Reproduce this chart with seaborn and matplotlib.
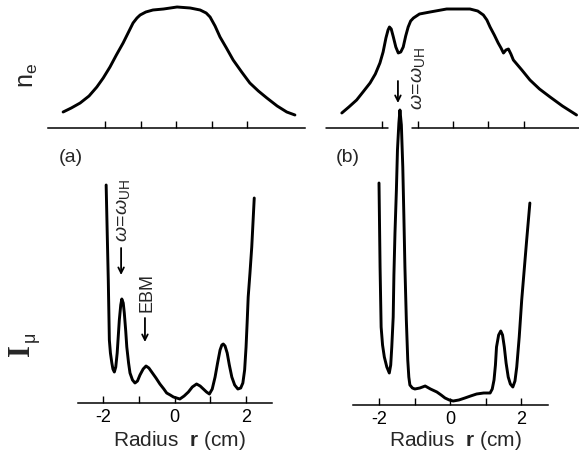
import numpy as np
import pandas as pd
import seaborn as sns
import matplotlib.pyplot as plt

# radius in cm, heights in arbitrary units

# (a) density profile
r_ne_a = [-3.18, -2.95, -2.70, -2.45, -2.23, -2.05, -1.86, -1.68, -1.49, -1.35, -1.21, -1.10, -1.01,
          -0.85, -0.65, -0.35, 0.03, 0.40, 0.68, 0.85, 0.96, 1.10, 1.24, 1.42, 1.61, 1.85, 2.08,
          2.32, 2.56, 2.85, 3.12, 3.35]
ne_a = [0.16, 0.20, 0.25, 0.32, 0.41, 0.50, 0.61, 0.73, 0.85, 0.95, 1.05, 1.10, 1.13,
        1.16, 1.18, 1.19, 1.21, 1.20, 1.18, 1.15, 1.11, 1.02, 0.91, 0.80, 0.68, 0.56, 0.45,
        0.37, 0.30, 0.22, 0.16, 0.13]

# (b) density profile
r_ne_b = [-3.15, -2.95, -2.73, -2.55, -2.35, -2.20, -2.07, -1.98, -1.90, -1.84, -1.80, -1.75, -1.69,
          -1.62, -1.55, -1.48, -1.41, -1.34, -1.27, -1.20, -1.12, -0.95, -0.65, -0.18, 0.20,
          0.48, 0.70, 0.86, 0.96, 1.05, 1.17, 1.28, 1.36, 1.43, 1.50, 1.57, 1.64, 1.71, 1.95,
          2.18, 2.45, 2.75, 3.10, 3.50]
ne_b = [0.15, 0.21, 0.28, 0.36, 0.45, 0.54, 0.65, 0.76, 0.90, 0.98, 1.01, 0.99, 0.91,
        0.81, 0.75, 0.76, 0.81, 0.92, 1.01, 1.07, 1.10, 1.14, 1.16, 1.19, 1.19,
        1.19, 1.17, 1.13, 1.08, 1.01, 0.93, 0.85, 0.80, 0.75, 0.78, 0.79, 0.74, 0.68, 0.58,
        0.48, 0.39, 0.31, 0.22, 0.13]

# (a) microwave intensity
r_mu_a = [-1.92, -1.89, -1.86, -1.83, -1.80, -1.76, -1.73, -1.69, -1.65, -1.61, -1.55, -1.51, -1.48,
          -1.44, -1.41, -1.37, -1.34, -1.29, -1.25, -1.18, -1.11, -1.04, -0.97, -0.88, -0.80,
          -0.72, -0.64, -0.52, -0.41, -0.30, -0.22, -0.12, -0.03, 0.06, 0.15, 0.27, 0.39,
          0.50, 0.62, 0.72, 0.81, 0.90, 0.98, 1.06, 1.14, 1.21, 1.28, 1.33, 1.37, 1.42, 1.48,
          1.54, 1.61, 1.69, 1.78, 1.86, 1.92, 1.97, 2.01, 2.04, 2.07, 2.12, 2.17, 2.24]
mu_a = [2.18, 1.70, 1.23, 0.63, 0.50, 0.40, 0.34, 0.31, 0.36, 0.50, 0.83, 0.98, 1.04,
        1.00, 0.90, 0.72, 0.56, 0.40, 0.30, 0.23, 0.20, 0.22, 0.28, 0.34, 0.37,
        0.35, 0.31, 0.25, 0.19, 0.14, 0.10, 0.08, 0.06, 0.05, 0.04, 0.07, 0.11,
        0.16, 0.19, 0.17, 0.14, 0.11, 0.09, 0.14, 0.26, 0.40, 0.53, 0.58, 0.59, 0.57, 0.50,
        0.38, 0.26, 0.18, 0.14, 0.15, 0.20, 0.33, 0.56, 0.80, 1.06, 1.30, 1.56, 2.05]

# (b) microwave intensity
r_mu_b = [-2.00, -1.97, -1.94, -1.90, -1.85, -1.78, -1.71, -1.67, -1.64, -1.60, -1.58, -1.55, -1.51,
          -1.48, -1.44, -1.41, -1.37, -1.33, -1.30, -1.27, -1.23, -1.19, -1.16, -1.13, -1.06,
          -0.99, -0.85, -0.70, -0.55, -0.37, -0.25, -0.14, -0.02, 0.09, 0.25, 0.42, 0.58,
          0.75, 0.95, 1.13, 1.19, 1.24, 1.28, 1.31, 1.37, 1.43, 1.48, 1.53, 1.58, 1.64, 1.70,
          1.77, 1.83, 1.88, 1.95, 2.02, 2.09, 2.16, 2.25]
mu_b = [2.22, 1.38, 0.78, 0.60, 0.48, 0.38, 0.32, 0.40, 0.58, 0.88, 1.30, 1.72, 2.15,
        2.55, 2.82, 2.95, 2.80, 2.38, 1.90, 1.38, 0.85, 0.45, 0.28, 0.20, 0.17,
        0.16, 0.17, 0.19, 0.16, 0.13, 0.10, 0.07, 0.05, 0.04, 0.05, 0.07, 0.09,
        0.11, 0.12, 0.12, 0.16, 0.25, 0.40, 0.58, 0.70, 0.74, 0.70, 0.58, 0.42, 0.28, 0.21,
        0.18, 0.24, 0.38, 0.68, 1.05, 1.35, 1.65, 2.02]

tick_pos = [-2, -1, 0, 1, 2]
tick_lab = ['-2', '', '0', '', '2']

sns.set_style('white')
plt.rcParams['font.family'] = ['Liberation Sans', 'DejaVu Sans']
plt.rcParams['mathtext.fontset'] = 'custom'
plt.rcParams['mathtext.rm'] = 'Liberation Sans'
plt.rcParams['mathtext.it'] = 'Liberation Sans:italic'
plt.rcParams['mathtext.bf'] = 'Liberation Sans:bold'

W, H = 579, 458
fig = plt.figure(figsize=(W / 100, H / 100), dpi=100)


def px_axes(x0, x1, y_axis, y_top, xc, scale, ytop_val):
    # place an axes by pixel box, with r=0 at xc and `scale` px per cm
    ax = fig.add_axes([x0 / W, (H - y_axis) / H, (x1 - x0) / W, (y_axis - y_top) / H])
    ax.patch.set_visible(False)
    ax.set_xlim((x0 - xc) / scale, (x1 - xc) / scale)
    ax.set_ylim(0, ytop_val)
    sns.despine(ax=ax, left=True)
    ax.spines['bottom'].set_linewidth(1.1)
    ax.spines['bottom'].set_color('black')
    ax.set_yticks([])
    ax.set_xticks(tick_pos)
    ax.tick_params(axis='x', bottom=True, direction='in', length=5, width=1, color='black',
                   pad=4, labelsize=13, labelcolor='black')
    return ax


def trace(ax, r, v):
    d = pd.DataFrame({'r': r, 'v': v})
    sns.lineplot(data=d, x='r', y='v', ax=ax, color='black', lw=2.1, sort=False,
                 estimator=None, clip_on=False, solid_joinstyle='round')
    ax.set_xlabel('')
    ax.set_ylabel('')


ax_ta = px_axes(48, 305, 128, 0, 176, 35.5, 1.28)
ax_tb = px_axes(326, 579, 128, 0, 453, 35.3, 1.28)
ax_ba = px_axes(78, 272, 403, 100, 174.5, 35.6, 3.03)
ax_bb = px_axes(353, 548, 405, 100, 450, 35.5, 3.05)

for ax in (ax_ta, ax_tb):
    ax.set_xticklabels([])
for ax in (ax_ba, ax_bb):
    ax.set_xticklabels(tick_lab)

# broken baseline in (b) where the spike passes
ax_tb.spines['bottom'].set_visible(False)
ax_tb.axhline(0, 0, 0.245, color='black', lw=1.1, clip_on=False)
ax_tb.axhline(0, 0.340, 1, color='black', lw=1.1, clip_on=False)

trace(ax_ta, r_ne_a, ne_a)
trace(ax_tb, r_ne_b, ne_b)
trace(ax_ba, r_mu_a, mu_a)
trace(ax_bb, r_mu_b, mu_b)

arrow = dict(arrowstyle='->', lw=1.3, color='black', shrinkA=0, shrinkB=0)
uh = r'$\omega\!=\!\omega_{\mathrm{UH}}$'

ax_ba.annotate('', xy=(-1.50, 1.28), xytext=(-1.50, 1.55), arrowprops=arrow)
ax_ba.text(-1.44, 1.61, uh, rotation=90, ha='center', va='bottom', fontsize=14)
ax_ba.annotate('', xy=(-0.83, 0.61), xytext=(-0.83, 0.85), arrowprops=arrow)
ax_ba.text(-0.78, 0.91, 'EBM', rotation=90, ha='center', va='bottom', fontsize=13)

ax_tb.annotate('', xy=(-1.56, 0.25), xytext=(-1.56, 0.47), arrowprops=arrow)
ax_tb.text(-1.00, 0.18, uh, rotation=90, ha='center', va='bottom', fontsize=14)

for axb, xc in ((ax_ba, 179), (ax_bb, 455)):
    fig.text(xc / W, 1 - 440 / H, r'Radius  $\mathbf{r}$ (cm)', ha='center', va='center', fontsize=15)

fig.text(71 / W, 1 - 158 / H, '(a)', ha='center', va='center', fontsize=14)
fig.text(348 / W, 1 - 158 / H, '(b)', ha='center', va='center', fontsize=14)

fig.text(28 / W, 1 - 75 / H, r'n$_{\mathrm{e}}$', rotation=90, ha='center', va='center', fontsize=18)
fig.text(22 / W, 1 - 350 / H, 'I', rotation=90, ha='center', va='center', fontsize=22,
         family='Liberation Serif', weight='bold')
fig.text(30 / W, 1 - 337 / H, 'μ', rotation=90, ha='center', va='center', fontsize=13)

fig.savefig('out.png', dpi=100)
